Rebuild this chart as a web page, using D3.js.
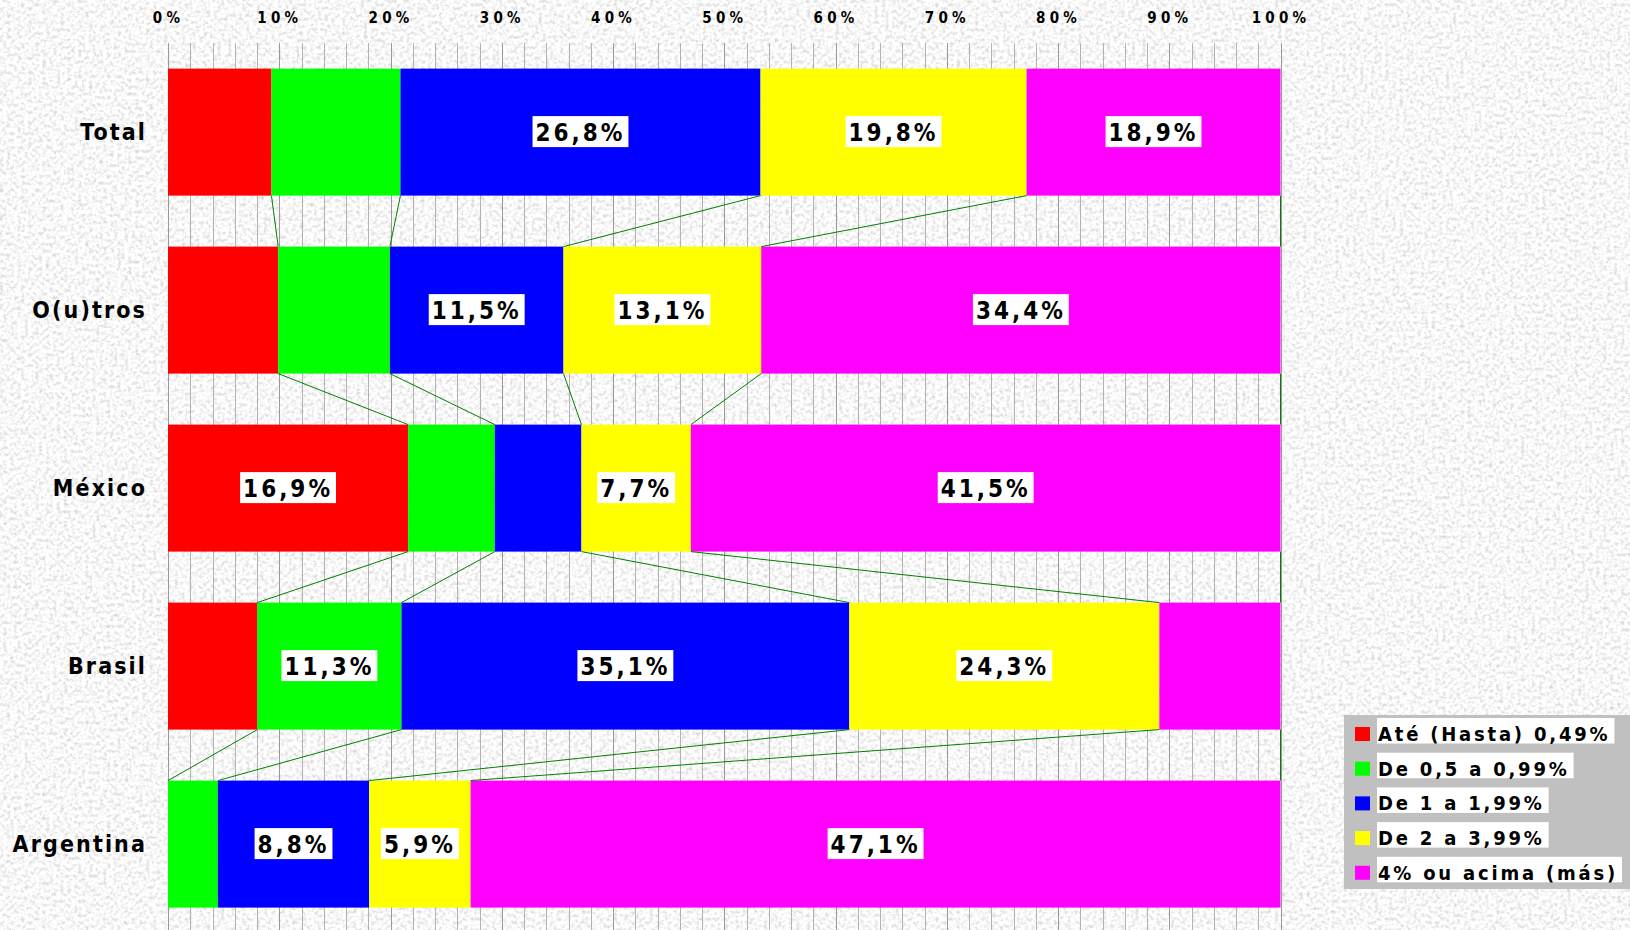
<!DOCTYPE html>
<html>
<head>
<meta charset="utf-8">
<script src="https://cdn.jsdelivr.net/npm/d3@7"></script>
<style>
  html, body { margin: 0; padding: 0; overflow: hidden; background: #ececec; }
  svg { display: block; font-family: "DejaVu Sans Condensed", "DejaVu Sans", Verdana, sans-serif; font-weight: bold; }
</style>
</head>
<body>
<svg id="chart"></svg>
<script>
const width = 1630, height = 930;

// --- data ---
const categories = ["Total", "O(u)tros", "México", "Brasil", "Argentina"];
const seriesNames = ["Até (Hasta) 0,49%", "De 0,5 a 0,99%", "De 1 a 1,99%", "De 2 a 3,99%", "4% ou acima (más)"];
const seriesColors = ["#ff0000", "#00ff00", "#0000ff", "#ffff00", "#ff00ff"];

// raw values per row; each row is stretched to 100% when drawn
const ate049 = [7.7, 7.3, 16.9, 7.0, 0.0];
const de05   = [9.6, 7.4, 6.1, 11.3, 2.9];
const de1    = [26.8, 11.5, 6.1, 35.1, 8.8];
const de2    = [19.8, 13.1, 7.7, 24.3, 5.9];
const acima4 = [18.9, 34.4, 41.5, 9.5, 47.1];

// which segments carry a value label (row = category, column = series)
const labelShown = [
  [0, 0, 1, 1, 1],
  [0, 0, 1, 1, 1],
  [1, 0, 0, 1, 1],
  [0, 1, 1, 1, 0],
  [0, 0, 1, 1, 1]
];

const majorTicks = d3.range(0, 11).map(i => i / 10);
const minorTicks = d3.range(0, 51).map(i => i / 50);

// --- layout ---
const svg = d3.select("#chart").attr("width", width).attr("height", height);
const plotTop = 43.1, plotBottom = 933.1;

const x = d3.scaleLinear().domain([0, 1]).range([168, 1280.5]);
const y = d3.scaleBand()
  .domain(categories)
  .range([plotTop, plotBottom])
  .paddingInner(0.2865)
  .paddingOuter(0.1433);

const keys = ["s0", "s1", "s2", "s3", "s4"];
const columns = [ate049, de05, de1, de2, acima4];
const rows = categories.map((c, i) => {
  const r = { cat: c };
  keys.forEach((k, j) => r[k] = columns[j][i]);
  return r;
});
const stacked = d3.stack().keys(keys).offset(d3.stackOffsetExpand)(rows);

const fmt = v => d3.format(".1f")(v).replace(".", ",") + "%";

// --- background texture ---
const defs = svg.append("defs");
const grain = defs.append("filter")
  .attr("id", "grain")
  .attr("filterUnits", "userSpaceOnUse")
  .attr("x", 0).attr("y", 0).attr("width", width).attr("height", height);
grain.append("feTurbulence")
  .attr("type", "fractalNoise")
  .attr("baseFrequency", "0.28")
  .attr("numOctaves", 3)
  .attr("seed", 11)
  .attr("result", "n");
grain.append("feColorMatrix")
  .attr("in", "n")
  .attr("type", "matrix")
  .attr("values", "0.75 0 0 0 0.565  0.75 0 0 0 0.565  0.75 0 0 0 0.565  0 0 0 0 1");

svg.append("rect")
  .attr("width", width).attr("height", height)
  .attr("fill", "#ececec")
  .attr("filter", "url(#grain)");

// --- gridlines ---
const grid = svg.append("g");
grid.selectAll("line.minor")
  .data(minorTicks.filter((d, i) => i % 5 !== 0))
  .join("line")
  .attr("class", "minor")
  .attr("x1", d => Math.round(x(d)) + 0.5).attr("x2", d => Math.round(x(d)) + 0.5)
  .attr("y1", plotTop).attr("y2", height)
  .attr("stroke", "#b2b2b2").attr("stroke-width", 1);
grid.selectAll("line.major")
  .data(majorTicks)
  .join("line")
  .attr("class", "major")
  .attr("x1", d => Math.round(x(d)) + 0.5).attr("x2", d => Math.round(x(d)) + 0.5)
  .attr("y1", plotTop).attr("y2", height)
  .attr("stroke", "#999").attr("stroke-width", 1);

// --- top axis ---
const axis = svg.append("g")
  .attr("transform", "translate(0,23)")
  .call(d3.axisTop(x).tickValues(majorTicks).tickFormat(d3.format(".0%")).tickSize(0).tickPadding(0));
axis.select(".domain").remove();
axis.selectAll("text")
  .attr("font-family", "DejaVu Sans Condensed, DejaVu Sans, Verdana, sans-serif")
  .attr("font-weight", "bold")
  .attr("font-size", 15)
  .attr("letter-spacing", 4.2)
  .attr("fill", "#000");

// --- bars ---
const bars = svg.append("g");
stacked.forEach((layer, j) => {
  bars.append("g")
    .attr("fill", seriesColors[j])
    .selectAll("rect")
    .data(layer)
    .join("rect")
    .attr("x", d => x(d[0]))
    .attr("width", d => x(d[1]) - x(d[0]))
    .attr("y", d => y(d.data.cat))
    .attr("height", y.bandwidth());
});

// --- series lines between bars ---
const links = [];
stacked.forEach(layer => {
  for (let i = 0; i < categories.length - 1; i++) {
    links.push({
      x1: x(layer[i][1]), y1: y(categories[i]) + y.bandwidth(),
      x2: x(layer[i + 1][1]), y2: y(categories[i + 1])
    });
  }
});
svg.append("g")
  .selectAll("line")
  .data(links)
  .join("line")
  .attr("x1", d => d.x1).attr("y1", d => d.y1)
  .attr("x2", d => d.x2).attr("y2", d => d.y2)
  .attr("stroke", "#008000").attr("stroke-width", 1);

// --- value labels ---
const labels = [];
stacked.forEach((layer, j) => {
  layer.forEach((d, i) => {
    if (labelShown[i][j]) {
      labels.push({
        cx: (x(d[0]) + x(d[1])) / 2,
        cy: y(d.data.cat) + y.bandwidth() / 2,
        text: fmt(columns[j][i])
      });
    }
  });
});
const lab = svg.append("g")
  .selectAll("g")
  .data(labels)
  .join("g")
  .attr("transform", d => `translate(${d.cx},${d.cy})`);
lab.append("rect").attr("fill", "#fff");
lab.append("text")
  .attr("text-anchor", "middle")
  .attr("dy", "0.36em")
  .attr("font-size", 24)
  .attr("letter-spacing", 3)
  .attr("fill", "#000")
  .text(d => d.text)
  .each(function () {
    const w = this.getComputedTextLength() + 6;
    d3.select(this.parentNode).select("rect")
      .attr("x", -w / 2).attr("width", w)
      .attr("y", -16).attr("height", 31);
  });

// --- category labels ---
svg.append("g")
  .selectAll("text")
  .data(categories)
  .join("text")
  .attr("x", 147)
  .attr("y", d => y(d) + y.bandwidth() / 2)
  .attr("dy", "0.36em")
  .attr("text-anchor", "end")
  .attr("font-size", 23)
  .attr("letter-spacing", 2.1)
  .attr("fill", "#000")
  .text(d => d);

// --- legend ---
const legend = svg.append("g");
legend.append("rect")
  .attr("x", 1344).attr("y", 715)
  .attr("width", 290).attr("height", 174)
  .attr("fill", "#c0c0c0");
const item = legend.selectAll("g")
  .data(seriesNames)
  .join("g")
  .attr("transform", (d, i) => `translate(0,${741 + i * 34.7})`);
item.append("rect")
  .attr("x", 1355).attr("y", -14)
  .attr("width", 15).attr("height", 14)
  .attr("fill", (d, i) => seriesColors[i]);
item.append("rect")
  .attr("class", "tbox")
  .attr("x", 1377).attr("y", -23).attr("height", 25.5)
  .attr("fill", "#fff");
item.append("text")
  .attr("x", 1378)
  .attr("font-size", 20)
  .attr("letter-spacing", 2.8)
  .attr("fill", "#000")
  .text(d => d)
  .each(function () {
    d3.select(this.parentNode).select("rect.tbox")
      .attr("width", this.getComputedTextLength() + 5);
  });
</script>
</body>
</html>
